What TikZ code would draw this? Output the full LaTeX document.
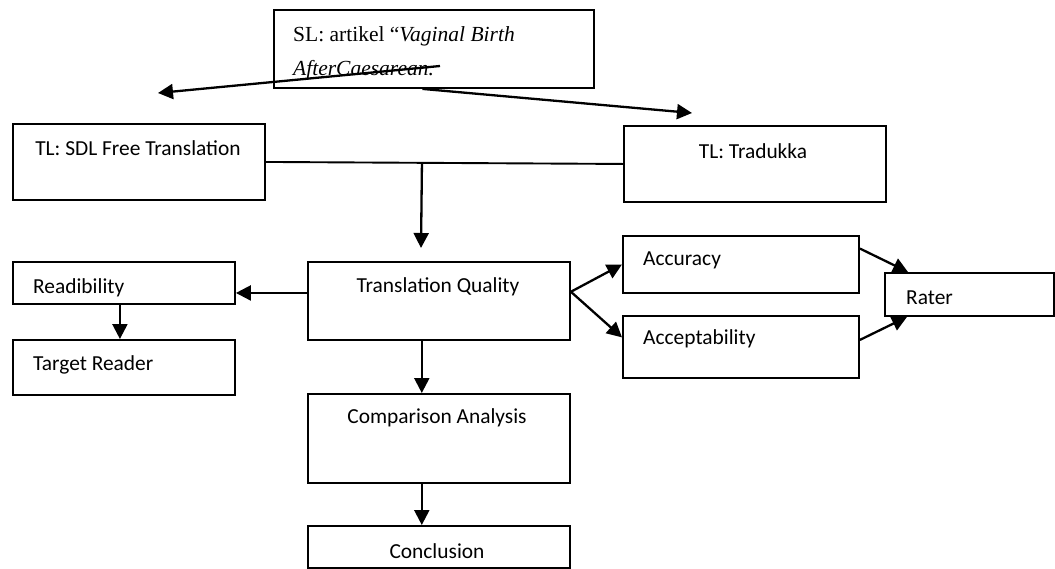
\documentclass[tikz,border=0pt]{standalone}
\usepackage{fontspec}
\setmainfont{Carlito}
\newfontfamily\serifx{Liberation Serif}
\usetikzlibrary{arrows.meta,calc}
\begin{document}
\begin{tikzpicture}[x=1pt,y=-1pt,
  box/.style={draw, line width=1.9pt, inner sep=0pt, anchor=north west},
  lbl/.style={font=\fontsize{21.4}{25}\selectfont, inner sep=0pt},
  lblw/.style={lbl, anchor=west},
  slt/.style={font=\serifx\fontsize{21.5}{25}\selectfont, inner sep=0pt, anchor=west},
  arr/.style={line width=2.3pt, -{Triangle[length=15pt,width=15pt]}},
  ln/.style={line width=1.9pt}]
\useasboundingbox (0,0) rectangle (1055,568);
% boxes
\node[box, minimum width=320pt, minimum height=78pt] (sl) at (273,9) {};
\node[box, minimum width=252pt, minimum height=76pt] (sdl) at (12,123) {};
\node[box, minimum width=262pt, minimum height=76pt] (trad) at (623,125) {};
\node[box, minimum width=262pt, minimum height=78pt] (tq) at (307,261) {};
\node[box, minimum width=222pt, minimum height=42pt] (rd) at (12,261) {};
\node[box, minimum width=222pt, minimum height=55pt] (tr) at (12,339) {};
\node[box, minimum width=236pt, minimum height=57pt] (acc) at (622,235) {};
\node[box, minimum width=236pt, minimum height=62pt] (acp) at (622,315) {};
\node[box, minimum width=169pt, minimum height=43pt] (rt) at (884,272) {};
\node[box, minimum width=262pt, minimum height=89pt] (cmp) at (307,393) {};
\node[box, minimum width=262pt, minimum height=42pt] (con) at (307,525) {};
% texts
\node[slt] (sl1) at (293,36) {SL: artikel “\textit{Vaginal Birth}};
\node[slt] (sl2) at (293,70) {\textit{AfterCaesarean.}};
\node[lbl] (sdlt) at (138,148) {TL: SDL Free Translation};
\node[lbl] (tradt) at (753,151) {TL: Tradukka};
\node[lbl] (tqt) at (438,287) {Translation Quality};
\begin{scope}
\clip (12,261) rectangle (234,297);
\node[lblw] (rdt) at (33,288) {Readibility};
\end{scope}
\node[lblw] (trt) at (33,365) {Target Reader};
\node[lblw] (acct) at (643,260) {Accuracy};
\node[lblw] (acpt) at (643,339) {Acceptability};
\node[lblw] (rtt) at (906,298) {Rater};
\node[lbl] (cmpt) at (437,418) {Comparison Analysis};
\node[lbl] (cont) at (437,551) {Conclusion};
% free ends
\coordinate (lstart) at (440,66);
\coordinate (ltip) at (158,93);
\coordinate (rtip) at (692,113);
\coordinate (tqin) at (421,248);
% connectors
\draw[arr] (lstart) -- (ltip);
\draw[arr] ($(sl.south west)!0.464!(sl.south east)$) -- (rtip);
\draw[ln] (sdl.east) -- (trad.west);
\draw[arr] ($(sdl.east)!0.437!(trad.west)$) -- (tqin);
\draw[arr] ($(tq.north west)!0.4!(tq.south west)$) coordinate (tqw) -- (tqw -| rd.east);
\draw[arr] ($(rd.south west)!0.482!(rd.south east)$) -- ($(tr.north west)!0.482!(tr.north east)$);
\draw[arr] ($(tq.north east)!0.385!(tq.south east)$) coordinate (tqe) -- (acc.west);
\draw[arr] (tqe) -- ($(acp.north west)!0.35!(acp.south west)$);
\draw[arr] ($(acc.north east)!0.23!(acc.south east)$) -- ($(rt.north west)+(24,0)$);
\draw[arr] ($(acp.north east)!0.39!(acp.south east)$) -- ($(rt.south west)+(23,0)$);
\draw[arr] ($(tq.south west)!0.435!(tq.south east)$) -- ($(cmp.north west)!0.435!(cmp.north east)$);
\draw[arr] ($(cmp.south west)!0.435!(cmp.south east)$) -- ($(con.north west)!0.435!(con.north east)$);
\end{tikzpicture}
\end{document}
